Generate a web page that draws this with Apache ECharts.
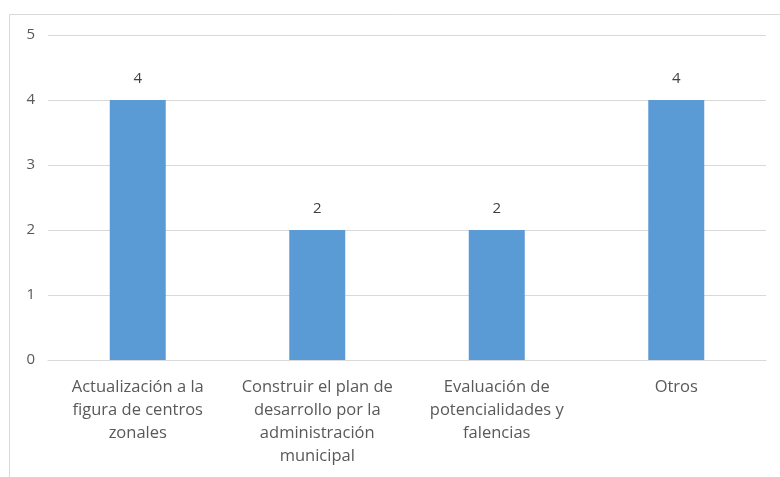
<!DOCTYPE html>
<html><head><meta charset="utf-8">
<script src="https://cdn.jsdelivr.net/npm/echarts@6/dist/echarts.min.js"></script>
<style>html,body{margin:0;padding:0;background:#fff;}#c{width:780px;height:477px;}</style>
</head><body><div id="c"></div>
<script>
const categories = [
  "Actualización a la\nfigura de centros\nzonales",
  "Construir el plan de\ndesarrollo por la\nadministración\nmunicipal",
  "Evaluación de\npotencialidades y\nfalencias",
  "Otros"
];
const values = [4, 2, 2, 4];
const yTicks = [0, 1, 2, 3, 4, 5];

const chart = echarts.init(document.getElementById('c'), null, {renderer: 'canvas'});
chart.setOption({
  animation: false,
  backgroundColor: '#ffffff',
  textStyle: {fontFamily: 'Open Sans'},
  graphic: [{
    type: 'rect', left: 7, top: 12,
    shape: {width: 790, height: 480},
    style: {fill: 'none', stroke: '#d9d9d9', lineWidth: 1}
  }],
  grid: {left: 48, right: 14, top: 35, bottom: 117, containLabel: false},
  xAxis: {
    type: 'category', data: categories,
    axisLine: {show: true, lineStyle: {color: '#d9d9d9'}},
    axisTick: {show: false},
    axisLabel: {color: '#595959', fontSize: 16.5, lineHeight: 23, margin: 16, interval: 0, fontFamily: 'Open Sans'}
  },
  yAxis: {
    type: 'value', min: yTicks[0], max: yTicks[yTicks.length - 1], interval: 1,
    axisLine: {show: false}, axisTick: {show: false},
    splitLine: {lineStyle: {color: '#d9d9d9'}},
    axisLabel: {color: '#595959', fontSize: 15, margin: 13, fontFamily: 'Open Sans'}
  },
  series: [{
    type: 'bar', data: values, barWidth: 56,
    itemStyle: {color: '#5b9bd5'},
    label: {show: true, position: 'top', color: '#404040', fontSize: 15, distance: 14, fontFamily: 'Open Sans'}
  }]
});
</script></body></html>
